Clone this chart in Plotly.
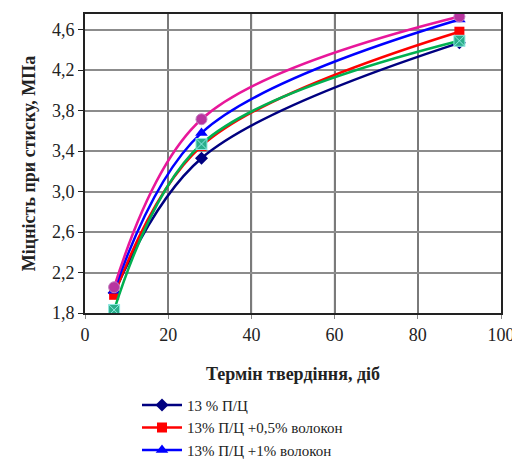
import plotly.graph_objects as go

days = [7, 28, 90]
s_navy = [2.00, 3.33, 4.47]
s_red = [1.98, 3.45, 4.58]
s_blue = [2.02, 3.58, 4.70]
s_green = [1.83, 3.47, 4.49]
s_magenta = [2.055, 3.715, 4.73]

names = ["13 % П/Ц", "13% П/Ц +0,5% волокон", "13% П/Ц +1% волокон",
         "13% П/Ц +1,5% волокон", "13% П/Ц +2% волокон"]

y_ticks = [1.8, 2.2, 2.6, 3.0, 3.4, 3.8, 4.2, 4.6]
x_ticks = [0, 20, 40, 60, 80, 100]

series = [
    (s_navy, "#000080", dict(symbol="diamond", size=10, color="#000080"), True),
    (s_red, "#FF0000", dict(symbol="square", size=10, color="#FF0000"), True),
    (s_blue, "#0000FF", dict(symbol="triangle-up", size=11, color="#0000FF"), True),
    (s_green, "#00B050", dict(symbol="square-x", size=11, color="#2BAE8A",
                              line=dict(color="#8FE8E0", width=1)), False),
    (s_magenta, "#E8179A", dict(symbol="circle", size=11, color="#B8349F",
                                line=dict(color="#C080C0", width=1)), False),
]

fig = go.Figure()
for (vals, col, mk, show), nm in zip(series, names):
    fig.add_trace(go.Scatter(
        x=days, y=vals, name=nm, mode="lines+markers",
        line=dict(color=col, width=2.5, shape="spline", smoothing=1.0),
        marker=mk, showlegend=show,
    ))

# vertical gridlines at the x tick positions
for xv in x_ticks[1:-1]:
    fig.add_vline(x=xv, line=dict(color="#7a7a7a", width=1.5), layer="below")

serif = "Liberation Serif"
fig.update_layout(
    width=512, height=451,
    margin=dict(l=77, r=19, t=4, b=146),
    paper_bgcolor="white", plot_bgcolor="white",
    separators=", ",
    font=dict(family=serif, size=18, color="#222"),
    xaxis=dict(
        range=[0, 100], tickvals=x_ticks,
        showgrid=True, gridcolor="#7a7a7a", gridwidth=1.5,
        ticks="outside", ticklen=4, tickcolor="#888",
        showline=True, linecolor="#222", linewidth=2, mirror=True,
        zeroline=False,
        tickfont=dict(family=serif, size=18),
        title=dict(text="<b>Термін твердіння, діб</b>", standoff=24,
                   font=dict(family=serif, size=18)),
    ),
    yaxis=dict(
        range=[1.8, 4.755], tickvals=y_ticks, tickformat=".1f",
        showgrid=True, gridcolor="#8c8c8c", gridwidth=1.5,
        ticks="outside", ticklen=5, tickcolor="#222",
        showline=True, linecolor="#222", linewidth=2, mirror=True,
        zeroline=False,
        tickfont=dict(family=serif, size=18),
        title=dict(text="<b>Міцність при стиску, МПа</b>", standoff=12,
                   font=dict(family=serif, size=18)),
    ),
    legend=dict(
        xref="paper", yref="container",
        x=0.125, y=0.156, xanchor="left", yanchor="top",
        font=dict(family=serif, size=15, color="#222"),
        bgcolor="rgba(0,0,0,0)", tracegroupgap=0, itemwidth=40,
    ),
)

fig.write_html("out.html")
